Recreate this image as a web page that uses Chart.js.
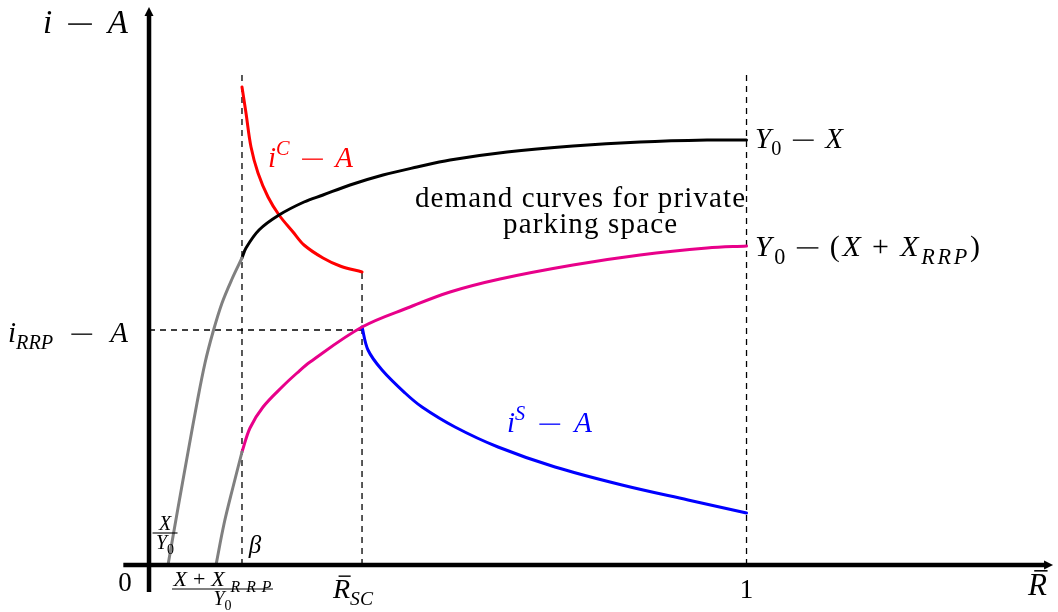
<!DOCTYPE html>
<html>
<head>
<meta charset="utf-8">
<script src="https://cdn.jsdelivr.net/npm/chart.js@4.4.1/dist/chart.umd.min.js"></script>
<style>
  html, body { margin: 0; padding: 0; background: #ffffff; }
  #wrap { width: 1058px; height: 612px; }
</style>
</head>
<body>
<div id="wrap"><canvas id="c" width="1058" height="612"></canvas></div>
<script>
// ---------- data ----------
// R on the horizontal axis (share), i - A on the vertical axis (arbitrary units)

// Y0 - X demand curve: grey part (below beta) and black part (beta .. 1)
const demandXLowR = [0.0318, 0.0485, 0.0653, 0.0803, 0.0937, 0.1071, 0.1222, 0.1389, 0.1556];
const demandXLowY = [0.00, 0.57, 1.13, 1.62, 2.02, 2.33, 2.62, 2.86, 3.07];
const demandXR = [0.1556, 0.1623, 0.1841, 0.2176, 0.2594, 0.2912, 0.3364, 0.3916, 0.4485, 0.5038, 0.5992, 0.7096, 0.8218, 0.9339, 1.0];
const demandXY = [3.07, 3.17, 3.35, 3.50, 3.63, 3.70, 3.80, 3.90, 3.98, 4.05, 4.13, 4.19, 4.23, 4.25, 4.25];

// Y0 - (X + X_RRP) demand curve: grey part and magenta part
const demandRRPLowR = [0.1121, 0.1255, 0.1406, 0.1556];
const demandRRPLowY = [0.00, 0.41, 0.78, 1.13];
const demandRRPR = [0.1556, 0.1690, 0.1908, 0.2243, 0.2477, 0.2695, 0.3565, 0.4368, 0.5038, 0.5874, 0.7096, 0.8218, 0.9339, 1.0];
const demandRRPY = [1.13, 1.37, 1.58, 1.79, 1.92, 2.03, 2.38, 2.58, 2.73, 2.86, 3.00, 3.10, 3.17, 3.19];

// i^C - A (red)
const iCR = [0.1556, 0.1623, 0.1707, 0.1824, 0.1992, 0.2176, 0.2410, 0.2594, 0.2912, 0.3197, 0.3565];
const iCY = [4.78, 4.52, 4.18, 3.92, 3.68, 3.50, 3.33, 3.20, 3.07, 2.99, 2.93];

// i^S - A (blue)
const iSR = [0.3565, 0.3665, 0.3900, 0.4285, 0.4569, 0.5121, 0.5841, 0.6795, 0.7916, 0.9021, 1.0];
const iSY = [2.38, 2.15, 1.95, 1.72, 1.58, 1.38, 1.18, 0.98, 0.80, 0.65, 0.52];

// reference levels
const betaR = 0.1556;      // beta
const rSC = 0.3565;        // R-bar_SC
const rOne = 1.0;          // R = 1
const iRRPLevel = 2.35;    // i_RRP - A
const guideTop = 4.92;     // top of the dashed guides at beta and 1

// ---------- helpers ----------
const zip = (xs, ys) => xs.map((x, k) => ({ x: x, y: ys[k] }));
const FONT = '"Liberation Serif", "Times New Roman", serif';

function curve(xs, ys, color) {
  return {
    data: zip(xs, ys), borderColor: color, borderWidth: 3, showLine: true,
    pointRadius: 0, tension: 0.35, order: 1, fill: false,
    borderCapStyle: 'round', borderJoinStyle: 'round'
  };
}
function guide(points) {
  return {
    data: points, borderColor: '#000000', borderWidth: 1.3, borderDash: [6, 5],
    showLine: true, pointRadius: 0, tension: 0, order: 10, fill: false
  };
}

function fontFor(style, size, subScale) {
  const italic = ['i', 'sub', 'sup', 'ibar'].includes(style);
  const small = ['sub', 'sup', 'subr'].includes(style);
  return (italic ? 'italic ' : '') + (small ? size * subScale : size) + 'px ' + FONT;
}
function measureParts(ctx, parts, size, subScale) {
  let w = 0, chars = 0, gaps = 0;
  for (const [t, s] of parts) {
    if (s === 'gap') { w += t * size; gaps += 1; continue; }
    if (s === 'minus') { w += 0.72 * size; chars += 1; continue; }
    ctx.font = fontFor(s, size, subScale);
    for (const ch of t) { w += ctx.measureText(ch).width; chars += 1; }
  }
  return { w: w, chars: chars, gaps: gaps };
}
// draws mixed roman / italic / sub / sup text; if targetW is wider than the
// natural width, the extra room goes into the gaps, between glyphs, or both
function drawRich(ctx, x, y, parts, size, color, align, targetW, mode, subScale) {
  subScale = subScale || 0.7;
  const m = measureParts(ctx, parts, size, subScale);
  let gapExtra = 0, letterExtra = 0, sx = 1;
  if (targetW) {
    const d = targetW - m.w;
    if (d > 0 && mode === 'all') { const u = m.chars + m.gaps - 1; gapExtra = d / u; letterExtra = d / u; }
    else if (d > 0 && m.gaps > 0) gapExtra = d / m.gaps;
    else if (d > 0 && m.chars > 1) letterExtra = d / (m.chars - 1);
    else if (d < 0) sx = targetW / m.w;
  }
  const total = targetW ? targetW : m.w;
  const x0 = align === 'center' ? x - total / 2 : (align === 'right' ? x - total : x);
  ctx.save();
  ctx.translate(x0, y);
  ctx.scale(sx, 1);
  ctx.fillStyle = color; ctx.strokeStyle = color;
  ctx.textBaseline = 'alphabetic'; ctx.textAlign = 'left';
  let cx = 0;
  let first = true;
  const advance = w => { cx += w; };
  for (const [t, s] of parts) {
    if (s === 'gap') { cx += t * size + gapExtra; continue; }
    if (s === 'minus') {
      ctx.lineWidth = Math.max(1.2, size * 0.045);
      ctx.beginPath();
      ctx.moveTo(cx, -0.27 * size); ctx.lineTo(cx + 0.72 * size, -0.27 * size);
      ctx.stroke();
      advance(0.72 * size + (mode === 'all' ? letterExtra : 0));
      continue;
    }
    ctx.font = fontFor(s, size, subScale);
    const dy = (s === 'sub' || s === 'subr') ? 0.25 * size : (s === 'sup' ? -0.42 * size : 0);
    for (const ch of t) {
      ctx.fillText(ch, cx, dy);
      const w = ctx.measureText(ch).width;
      if (s === 'ibar') {
        ctx.lineWidth = Math.max(1, size * 0.05);
        ctx.beginPath();
        ctx.moveTo(cx + 0.2 * size, -0.78 * size);
        ctx.lineTo(cx + w + 0.02 * size, -0.78 * size);
        ctx.stroke();
      }
      advance(w + letterExtra);
    }
  }
  ctx.restore();
}

const MINUS = [[0.2, 'gap'], ['', 'minus'], [0.2, 'gap']];
const PLUS = [[0.2, 'gap'], ['+', 'r'], [0.2, 'gap']];

// text labels, anchored in data units
const labels = [
  { at: [-0.1774, 5.32], align: 'left', size: 33, w: 85, color: '#000', parts: [['i', 'i'], ...MINUS, ['A', 'i']] },
  { at: [-0.0402, -0.26], align: 'center', size: 27, color: '#000', parts: [['0', 'r']] },
  { at: [0.1774, 0.12], align: 'center', size: 25, color: '#000', parts: [['\u03B2', 'i']] },
  { at: [0.3079, -0.33], align: 'left', size: 28, color: '#000', parts: [['R', 'ibar'], ['SC', 'sub']] },
  { at: [rOne, -0.33], align: 'center', size: 27, color: '#000', parts: [['1', 'r']] },
  { at: [1.4711, -0.30], align: 'left', size: 31, color: '#000', parts: [['R', 'ibar']] },
  { at: [-0.2360, 2.23], align: 'left', size: 29, w: 120, color: '#000', parts: [['i', 'i'], ['RRP', 'sub'], ...MINUS, ['A', 'i']] },
  { at: [0.1992, 3.98], align: 'left', size: 29, w: 85, color: '#ff0000', parts: [['i', 'i'], ['C', 'sup'], ...MINUS, ['A', 'i']] },
  { at: [0.5992, 1.33], align: 'left', size: 29, w: 85, color: '#0000ff', parts: [['i', 'i'], ['S', 'sup'], ...MINUS, ['A', 'i']] },
  { at: [1.0142, 4.17], align: 'left', size: 29, w: 88, color: '#000', parts: [['Y', 'i'], ['0', 'subr'], ...MINUS, ['X', 'i']] },
  { at: [1.0142, 3.09], align: 'left', size: 30, w: 225, mode: 'all', sub: 0.74, color: '#000', parts: [['Y', 'i'], ['0', 'subr'], ...MINUS, ['(', 'r'], ['X', 'i'], ...PLUS, ['X', 'i'], ['RRP', 'sub'], [')', 'r']] },
  { at: [0.7213, 3.58], align: 'center', size: 29, w: 330, color: '#000', parts: [['demand curves for private', 'r']] },
  { at: [0.7381, 3.32], align: 'center', size: 29, w: 174, color: '#000', parts: [['parking space', 'r']] }
];
// fractions: centre, bar level, bar width (px), numerator, denominator
const fractions = [
  { at: [0.0268, 0.32], size: 20, barW: 25, num: [['X', 'i']], den: [['Y', 'i'], ['0', 'subr']] },
  { at: [0.1230, -0.24], size: 22, barW: 101, numW: 98, num: [['X', 'i'], ['+', 'r'], ['X', 'i'], ['RRP', 'sub']], den: [['Y', 'i'], ['0', 'subr']] }
];

// axis extents (data units)
const xAxisFrom = -0.043, xAxisTo = 1.513;
const yAxisFrom = -0.27, yAxisTo = 5.58;

const overlay = {
  id: 'overlay',
  afterDatasetsDraw(chart) {
    const ctx = chart.ctx;
    const xs = chart.scales.x, ys = chart.scales.y;
    const px = v => xs.getPixelForValue(v), py = v => ys.getPixelForValue(v);
    ctx.save();
    // axes with arrow heads
    ctx.strokeStyle = '#000'; ctx.fillStyle = '#000'; ctx.lineWidth = 4.5; ctx.lineCap = 'butt';
    const ox = px(0), oy = py(0);
    const xEnd = px(xAxisTo), yEnd = py(yAxisTo);
    ctx.beginPath(); ctx.moveTo(px(xAxisFrom), oy); ctx.lineTo(xEnd - 6, oy); ctx.stroke();
    ctx.beginPath(); ctx.moveTo(xEnd, oy); ctx.lineTo(xEnd - 9, oy - 4.5); ctx.lineTo(xEnd - 9, oy + 4.5); ctx.closePath(); ctx.fill();
    ctx.beginPath(); ctx.moveTo(ox, py(yAxisFrom)); ctx.lineTo(ox, yEnd + 6); ctx.stroke();
    ctx.beginPath(); ctx.moveTo(ox, yEnd); ctx.lineTo(ox - 4.5, yEnd + 9); ctx.lineTo(ox + 4.5, yEnd + 9); ctx.closePath(); ctx.fill();
    // labels
    for (const L of labels) {
      drawRich(ctx, px(L.at[0]), py(L.at[1]), L.parts, L.size, L.color, L.align, L.w, L.mode, L.sub);
    }
    for (const F of fractions) {
      const cx = px(F.at[0]), by = py(F.at[1]);
      ctx.lineWidth = 1.1; ctx.strokeStyle = '#000';
      ctx.beginPath(); ctx.moveTo(cx - F.barW / 2, by); ctx.lineTo(cx + F.barW / 2, by); ctx.stroke();
      drawRich(ctx, cx, by - 3, F.num, F.size, '#000', 'center', F.numW, 'all', 0.72);
      drawRich(ctx, cx, by + 16, F.den, 20, '#000', 'center');
    }
    ctx.restore();
  }
};

const datasets = [
  guide([{ x: betaR, y: 0 }, { x: betaR, y: guideTop }]),
  guide([{ x: rSC, y: 0 }, { x: rSC, y: iCY[iCY.length - 1] }]),
  guide([{ x: rOne, y: 0 }, { x: rOne, y: guideTop }]),
  guide([{ x: 0, y: iRRPLevel }, { x: rSC, y: iRRPLevel }]),
  curve(demandXLowR, demandXLowY, '#808080'),
  curve(demandRRPLowR, demandRRPLowY, '#808080'),
  curve(demandXR, demandXY, '#000000'),
  curve(demandRRPR, demandRRPY, '#e8008a'),
  curve(iCR, iCY, '#ff0000'),
  curve(iSR, iSY, '#0000ff')
];

new Chart(document.getElementById('c'), {
  type: 'scatter',
  data: { datasets: datasets },
  options: {
    responsive: false,
    animation: false,
    devicePixelRatio: 1,
    layout: { padding: 0 },
    plugins: { legend: { display: false }, tooltip: { enabled: false }, title: { display: false } },
    scales: {
      x: { type: 'linear', display: false, min: -0.2494, max: 1.5213 },
      y: { type: 'linear', display: false, min: -0.47, max: 5.65 }
    }
  },
  plugins: [overlay]
});
</script>
</body>
</html>
